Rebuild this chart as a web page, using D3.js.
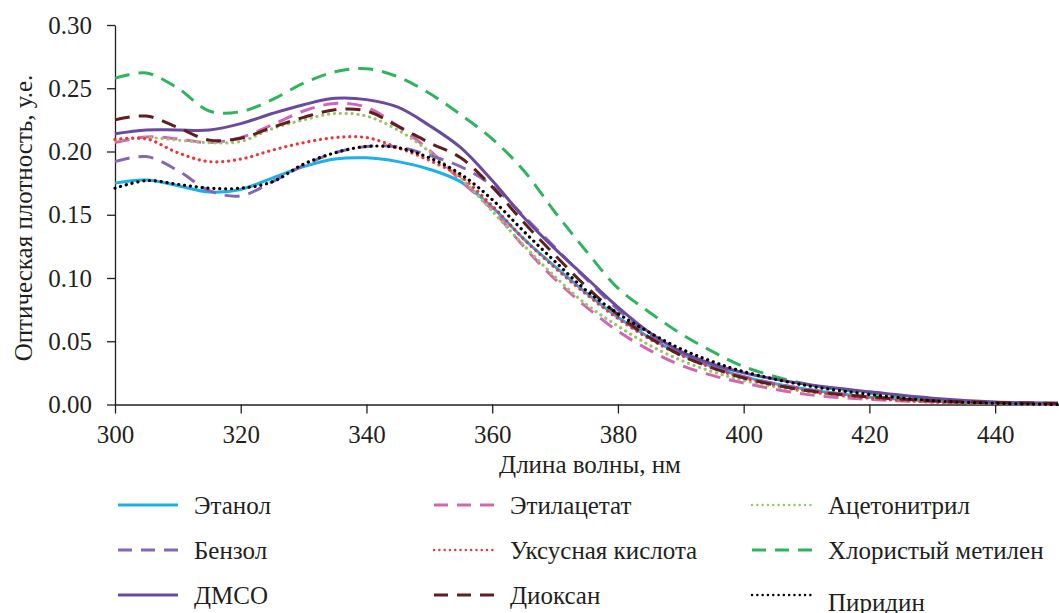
<!DOCTYPE html>
<html>
<head>
<meta charset="utf-8">
<script src="https://cdn.jsdelivr.net/npm/d3@7"></script>
<style>
  body { margin: 0; background: #fff; }
  svg text { font-family: "Liberation Serif", "Times New Roman", "DejaVu Serif", serif; fill: #231f20; }
</style>
</head>
<body>
<script>
const w = 1059;
const h = 613;

// wavelength, nm
const wavelengths = [300, 305, 310, 315, 320, 325, 330, 335, 340, 345, 350, 355, 360,
  365, 370, 375, 380, 385, 390, 395, 400, 410, 420, 430, 440, 450];

// optical density per solvent
const ethanol      = [0.175, 0.1775, 0.173, 0.168, 0.170, 0.179, 0.188, 0.194, 0.195, 0.192, 0.186, 0.176, 0.156,
  0.131, 0.109, 0.088, 0.069, 0.053, 0.040, 0.030, 0.022, 0.012, 0.006, 0.003, 0.001, 0.000];
const ethylAcetate = [0.207, 0.2115, 0.210, 0.207, 0.211, 0.221, 0.232, 0.238, 0.235, 0.220, 0.201, 0.177, 0.154,
  0.125, 0.099, 0.077, 0.058, 0.043, 0.031, 0.023, 0.017, 0.008, 0.004, 0.002, 0.001, 0.000];
const acetonitrile = [0.209, 0.211, 0.209, 0.207, 0.208, 0.218, 0.225, 0.230, 0.228, 0.217, 0.200, 0.179, 0.153,
  0.126, 0.101, 0.079, 0.062, 0.047, 0.035, 0.026, 0.019, 0.010, 0.005, 0.002, 0.001, 0.000];
const benzene      = [0.192, 0.196, 0.185, 0.169, 0.165, 0.176, 0.189, 0.199, 0.204, 0.2035, 0.197, 0.188, 0.173,
  0.149, 0.124, 0.099, 0.075, 0.055, 0.041, 0.030, 0.022, 0.012, 0.006, 0.003, 0.001, 0.000];
const aceticAcid   = [0.2096, 0.210, 0.199, 0.192, 0.194, 0.201, 0.207, 0.211, 0.211, 0.203, 0.193, 0.180, 0.157,
  0.131, 0.108, 0.087, 0.068, 0.052, 0.039, 0.029, 0.021, 0.011, 0.005, 0.002, 0.001, 0.000];
const methChloride = [0.258, 0.262, 0.250, 0.232, 0.2315, 0.241, 0.254, 0.263, 0.2655, 0.259, 0.246, 0.229, 0.210,
  0.185, 0.152, 0.121, 0.092, 0.073, 0.056, 0.042, 0.030, 0.016, 0.009, 0.004, 0.0015, 0.0005];
const dmso         = [0.214, 0.217, 0.217, 0.217, 0.222, 0.230, 0.237, 0.242, 0.241, 0.235, 0.2206, 0.203, 0.177,
  0.148, 0.123, 0.100, 0.077, 0.057, 0.042, 0.032, 0.025, 0.016, 0.010, 0.005, 0.002, 0.001];
const dioxane      = [0.225, 0.228, 0.219, 0.209, 0.2105, 0.219, 0.227, 0.233, 0.232, 0.220, 0.207, 0.195, 0.172,
  0.144, 0.118, 0.093, 0.071, 0.053, 0.039, 0.029, 0.021, 0.011, 0.006, 0.003, 0.0015, 0.001];
const pyridine     = [0.171, 0.177, 0.174, 0.171, 0.171, 0.176, 0.190, 0.199, 0.204, 0.203, 0.195, 0.182, 0.162,
  0.137, 0.113, 0.090, 0.072, 0.057, 0.044, 0.034, 0.026, 0.015, 0.008, 0.003, 0.001, 0.000];

const xTicks = [300, 320, 340, 360, 380, 400, 420, 440];
const yTicks = [0, 0.05, 0.10, 0.15, 0.20, 0.25, 0.30];

// legend order (row by row, 3 columns)
const series = [
  { name: "Этанол", values: ethanol, color: "#1db1e9", style: "solid" },
  { name: "Этилацетат", values: ethylAcetate, color: "#d366b3", style: "dash" },
  { name: "Ацетонитрил", values: acetonitrile, color: "#9cc36a", style: "dot" },
  { name: "Бензол", values: benzene, color: "#8469b2", style: "dash" },
  { name: "Уксусная кислота", values: aceticAcid, color: "#f2333a", style: "dot" },
  { name: "Хлористый метилен", values: methChloride, color: "#2fb35f", style: "dash" },
  { name: "ДМСО", values: dmso, color: "#6a4a9f", style: "solid" },
  { name: "Диоксан", values: dioxane, color: "#5e1f20", style: "dash" },
  { name: "Пиридин", values: pyridine, color: "#000000", style: "dot" }
];

const font = "'Liberation Serif', 'Times New Roman', 'DejaVu Serif', serif";

const svg = d3.select("body")
  .append("svg")
  .attr("width", w)
  .attr("height", h);

const xScale = d3.scaleLinear()
  .domain([300, 450])
  .range([115, 1058]);

const yScale = d3.scaleLinear()
  .domain([0, 0.30])
  .range([404.5, 25]);

// axes
const xAxis = d3.axisBottom(xScale)
  .tickValues(xTicks)
  .tickFormat(d3.format("d"))
  .tickSize(9)
  .tickSizeOuter(0)
  .tickPadding(12);

const yAxis = d3.axisLeft(yScale)
  .tickValues(yTicks)
  .tickFormat(d3.format(".2f"))
  .tickSize(8)
  .tickSizeOuter(0)
  .tickPadding(15);

const yAxisGroup = svg.append("g")
  .attr("transform", `translate(${xScale(300)}, 0)`)
  .call(yAxis);

const xAxisGroup = svg.append("g")
  .attr("transform", `translate(0, ${yScale(0)})`)
  .call(xAxis);

[xAxisGroup, yAxisGroup].forEach(g => {
  g.attr("font-family", null).attr("font-size", null);
  g.selectAll("path, line").attr("stroke", "#231f20").attr("stroke-width", 1.3);
  g.selectAll("text")
    .style("font-family", font)
    .style("font-size", "25px")
    .attr("fill", "#231f20");
});

// axis titles
svg.append("text")
  .attr("x", 590)
  .attr("y", 473)
  .attr("text-anchor", "middle")
  .style("font-family", font)
  .style("font-size", "25px")
  .text("Длина волны, нм");

svg.append("text")
  .attr("transform", "translate(32, 218) rotate(-90)")
  .attr("text-anchor", "middle")
  .style("font-family", font)
  .style("font-size", "25px")
  .text("Оптическая плотность, у.е.");

function dashFor(style, legend) {
  if (style === "dash") return legend ? "14,9" : "15,9";
  if (style === "dot") return legend ? "0.1,5.2" : "0.1,5.8";
  return null;
}

const line = d3.line()
  .x((d, i) => xScale(wavelengths[i]))
  .y(d => yScale(d))
  .curve(d3.curveCatmullRom.alpha(0.5));

svg.append("g")
  .selectAll("path")
  .data(series)
  .enter()
  .append("path")
  .attr("d", d => line(d.values))
  .attr("fill", "none")
  .attr("stroke", d => d.color)
  .attr("stroke-width", d => d.style === "dot" ? 3.2 : 3)
  .attr("stroke-linecap", d => d.style === "dot" ? "round" : "butt")
  .attr("stroke-dasharray", d => dashFor(d.style, false));

// legend
const colX = [118, 434, 752];
const rowY = [505, 550, 595];

const legend = svg.append("g")
  .selectAll("g")
  .data(series)
  .enter()
  .append("g")
  .attr("transform", (d, i) => `translate(${colX[i % 3]}, ${rowY[Math.floor(i / 3)]})`);

legend.append("line")
  .attr("x1", 0)
  .attr("x2", 60)
  .attr("y1", 0)
  .attr("y2", 0)
  .attr("stroke", d => d.color)
  .attr("stroke-width", d => d.style === "dot" ? 2.4 : 3)
  .attr("stroke-linecap", d => d.style === "dot" ? "round" : "butt")
  .attr("stroke-dasharray", d => dashFor(d.style, true));

legend.append("text")
  .attr("x", 76)
  .attr("y", d => d.name === "Пиридин" ? 7 : 0)
  .attr("dy", "0.35em")
  .style("font-family", font)
  .style("font-size", "25px")
  .text(d => d.name);
</script>
</body>
</html>
